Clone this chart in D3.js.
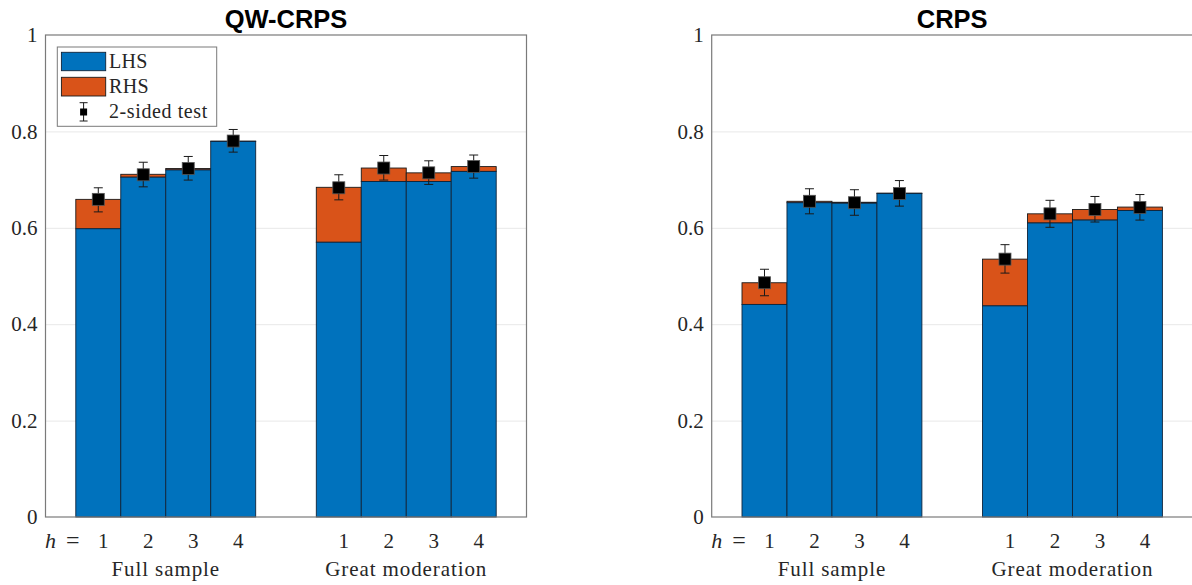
<!DOCTYPE html>
<html>
<head>
<meta charset="utf-8">
<script src="https://cdn.jsdelivr.net/npm/d3@7"></script>
<style>
  html, body { margin: 0; padding: 0; background: #fff; }
  svg { display: block; }
</style>
</head>
<body>
<svg id="chart" width="1192" height="585"></svg>
<script>
// ---------------- data ----------------
const panelTitles = ["QW-CRPS", "CRPS"];
const groupLabels = ["Full sample", "Great moderation"];
const horizons = ["1", "2", "3", "4"];
const yTickValues = [0, 0.2, 0.4, 0.6, 0.8, 1];
const yTickLabels = ["0", "0.2", "0.4", "0.6", "0.8", "1"];
const legendLabels = ["LHS", "RHS", "2-sided test"];

// QW-CRPS panel
const qwFullLHS = [0.598, 0.705, 0.720, 0.779];
const qwFullRHS = [0.061, 0.006, 0.003, 0.001];
const qwGreatLHS = [0.570, 0.696, 0.696, 0.717];
const qwGreatRHS = [0.114, 0.028, 0.018, 0.010];
const qwFullTest = [0.659, 0.710, 0.723, 0.780];
const qwFullLo = [0.633, 0.685, 0.699, 0.757];
const qwFullHi = [0.683, 0.736, 0.748, 0.804];
const qwGreatTest = [0.683, 0.724, 0.714, 0.727];
const qwGreatLo = [0.658, 0.699, 0.690, 0.703];
const qwGreatHi = [0.710, 0.750, 0.739, 0.751];

// CRPS panel
const crFullLHS = [0.441, 0.652, 0.651, 0.671];
const crFullRHS = [0.045, 0.003, 0.002, 0.001];
const crGreatLHS = [0.438, 0.610, 0.616, 0.636];
const crGreatRHS = [0.097, 0.019, 0.022, 0.007];
const crFullTest = [0.486, 0.655, 0.652, 0.671];
const crFullLo = [0.459, 0.629, 0.626, 0.645];
const crFullHi = [0.514, 0.681, 0.679, 0.698];
const crGreatTest = [0.535, 0.629, 0.638, 0.642];
const crGreatLo = [0.506, 0.601, 0.612, 0.616];
const crGreatHi = [0.565, 0.657, 0.665, 0.669];

const panelsData = [
  { title: panelTitles[0],
    groups: [
      { lhs: qwFullLHS, rhs: qwFullRHS, test: qwFullTest, lo: qwFullLo, hi: qwFullHi },
      { lhs: qwGreatLHS, rhs: qwGreatRHS, test: qwGreatTest, lo: qwGreatLo, hi: qwGreatHi }
    ], legend: true },
  { title: panelTitles[1],
    groups: [
      { lhs: crFullLHS, rhs: crFullRHS, test: crFullTest, lo: crFullLo, hi: crFullHi },
      { lhs: crGreatLHS, rhs: crGreatRHS, test: crGreatTest, lo: crGreatLo, hi: crGreatHi }
    ], legend: false }
];

// ---------------- layout / style ----------------
const SERIF = '"Liberation Serif", "Times New Roman", serif';
const colLHS = "#0072BD";
const colRHS = "#D95319";
const frameCol = "#7a7a7a";
const gridCol = "#e8e8e8";
const textCol = "#262626";
const panelX = [[45.5, 526.5], [711.7, 1192.7]];
const yTop = 35, yBottom = 517;
const barW = 0.187;           // in group units
const tickLabelShift = 5;     // px

const svg = d3.select("#chart");

function serifText(sel, size) {
  return sel.attr("font-family", SERIF).style("font-family", SERIF)
    .style("font-size", size + "px").attr("fill", textCol);
}

panelsData.forEach((p, pi) => {
  const [x0, x1] = panelX[pi];
  const x = d3.scaleLinear().domain([0.5, 2.5]).range([x0, x1]);
  const y = d3.scaleLinear().domain([0, 1]).range([yBottom, yTop]);
  const g = svg.append("g");

  // grid lines
  g.append("g")
    .attr("transform", `translate(${x0},0)`)
    .call(d3.axisLeft(y).tickValues(yTickValues.filter(v => v > 0 && v < 1)).tickSize(-(x1 - x0)).tickFormat(""))
    .call(s => s.select(".domain").remove())
    .call(s => s.selectAll("line").attr("stroke", gridCol).attr("stroke-width", 1));

  // y tick labels
  const ya = g.append("g")
    .attr("transform", `translate(${x0},0)`)
    .call(d3.axisLeft(y).tickValues(yTickValues).tickSize(0).tickPadding(8)
      .tickFormat((d, i) => yTickLabels[i]));
  ya.select(".domain").remove();
  ya.attr("font-family", SERIF).attr("font-size", 21);
  serifText(ya.selectAll("text"), 21);

  // bars
  p.groups.forEach((grp, gi) => {
    const center = gi + 1;
    grp.lhs.forEach((v, k) => {
      const xc = center + (k - 1.5) * barW;
      const xl = x(xc - barW / 2), xr = x(xc + barW / 2);
      const total = v + grp.rhs[k];
      g.append("rect")
        .attr("x", xl).attr("width", xr - xl)
        .attr("y", y(total)).attr("height", y(v) - y(total))
        .attr("fill", colRHS).attr("stroke", "#1a1a1a").attr("stroke-width", 0.9);
      g.append("rect")
        .attr("x", xl).attr("width", xr - xl)
        .attr("y", y(v)).attr("height", y(0) - y(v))
        .attr("fill", colLHS).attr("stroke", "#10243a").attr("stroke-width", 0.9);
    });
    // error bars + markers
    grp.test.forEach((v, k) => {
      const cx = x(center + (k - 1.5) * barW);
      const capW = 4.5;
      const eg = g.append("g").attr("stroke", "#1a1a1a").attr("stroke-width", 1);
      eg.append("line").attr("x1", cx).attr("x2", cx).attr("y1", y(grp.lo[k])).attr("y2", y(grp.hi[k]));
      eg.append("line").attr("x1", cx - capW).attr("x2", cx + capW).attr("y1", y(grp.lo[k])).attr("y2", y(grp.lo[k]));
      eg.append("line").attr("x1", cx - capW).attr("x2", cx + capW).attr("y1", y(grp.hi[k])).attr("y2", y(grp.hi[k]));
      const ms = 12;
      g.append("rect").attr("x", cx - ms / 2).attr("y", y(v) - ms / 2)
        .attr("width", ms).attr("height", ms)
        .attr("fill", "#000").attr("stroke", "#555").attr("stroke-width", 0.8);
    });
    // x tick labels
    horizons.forEach((h, k) => {
      const cx = x(center + (k - 1.5) * barW) + tickLabelShift;
      serifText(g.append("text"), 21)
        .attr("x", cx).attr("y", 547.5)
        .attr("text-anchor", "middle")
        .text(h);
    });
    // group label
    serifText(g.append("text"), 21)
      .attr("x", x(center)).attr("y", 576)
      .attr("text-anchor", "middle")
      .style("letter-spacing", "0.9px")
      .text(groupLabels[gi]);
  });

  // "h =" label
  serifText(g.append("text"), 22)
    .attr("x", x0 - 0.5).attr("y", 547.5)
    .style("font-style", "italic")
    .text("h");
  serifText(g.append("text"), 24)
    .attr("x", x0 + 27.3).attr("y", 547.5)
    .attr("text-anchor", "middle")
    .text("=");

  // frame
  g.append("rect")
    .attr("x", x0).attr("y", yTop)
    .attr("width", x1 - x0).attr("height", yBottom - yTop)
    .attr("fill", "none").attr("stroke", frameCol).attr("stroke-width", 1.2);

  // title
  g.append("text")
    .attr("x", (x0 + x1) / 2).attr("y", 27.5)
    .attr("text-anchor", "middle")
    .style("font-family", '"Liberation Sans", Arial, sans-serif')
    .style("font-weight", "bold")
    .style("font-size", "25.5px")
    .attr("fill", "#000")
    .text(p.title);

  // legend
  if (p.legend) {
    const lg = g.append("g");
    lg.append("rect").attr("x", 57.3).attr("y", 47).attr("width", 159.4).attr("height", 79.3)
      .attr("fill", "#fff").attr("stroke", frameCol).attr("stroke-width", 1);
    lg.append("rect").attr("x", 61.4).attr("y", 52.3).attr("width", 44.3).attr("height", 18.4)
      .attr("fill", colLHS).attr("stroke", "#10243a").attr("stroke-width", 0.9);
    lg.append("rect").attr("x", 61.4).attr("y", 77.3).attr("width", 44.3).attr("height", 18.7)
      .attr("fill", colRHS).attr("stroke", "#1a1a1a").attr("stroke-width", 0.9);
    const mx = 83.6, my = 112;
    const eg = lg.append("g").attr("stroke", "#1a1a1a").attr("stroke-width", 1);
    eg.append("line").attr("x1", mx).attr("x2", mx).attr("y1", 102.7).attr("y2", 121);
    eg.append("line").attr("x1", mx - 4).attr("x2", mx + 4).attr("y1", 102.7).attr("y2", 102.7);
    eg.append("line").attr("x1", mx - 4).attr("x2", mx + 4).attr("y1", 121).attr("y2", 121);
    lg.append("rect").attr("x", mx - 3.5).attr("y", my - 3.5).attr("width", 7).attr("height", 7).attr("fill", "#000");
    const ty = [67.5, 92.8, 117.5];
    legendLabels.forEach((t, i) => {
      serifText(lg.append("text"), 20)
        .attr("x", 109).attr("y", ty[i])
        .style("letter-spacing", i === 2 ? "0.6px" : "0.3px")
        .text(t);
    });
  }
});
</script>
</body>
</html>
